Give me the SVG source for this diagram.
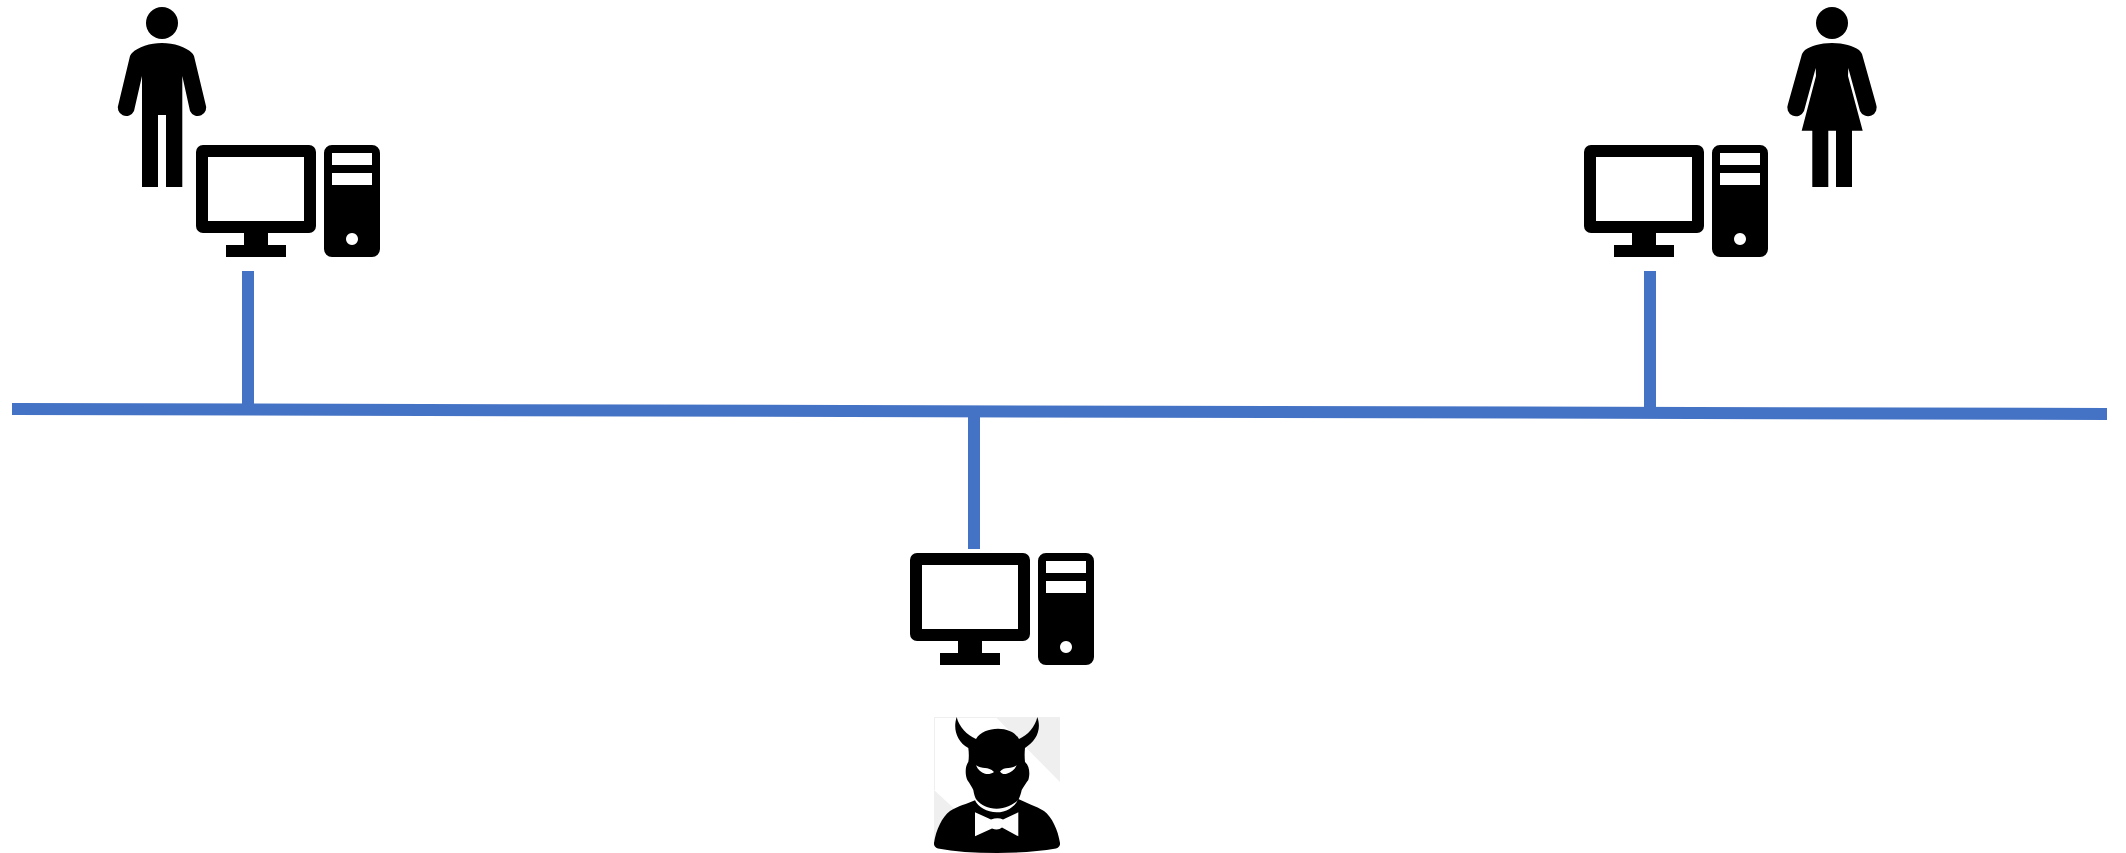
<svg xmlns="http://www.w3.org/2000/svg" width="2126" height="853" viewBox="0 0 2126 853">
<defs>
<style>.w{fill:#fff}.b{fill:#4472c4}.g{fill:#efefef}</style>
<g id="pc">
<path fill-rule="evenodd" d="M203 145H309a7 7 0 0 1 7 7V226a7 7 0 0 1-7 7H268V245H286V257H226V245H244V233H203a7 7 0 0 1-7-7V152a7 7 0 0 1 7-7ZM208 157V221H304V157Z"/>
<path fill-rule="evenodd" d="M332 145H372a8 8 0 0 1 8 8V249a8 8 0 0 1-8 8H332a8 8 0 0 1-8-8V153a8 8 0 0 1 8-8ZM332 153V165H372V153ZM332 173V185H372V173ZM352 233a6 6 0 1 0 .01 0Z"/>
</g>
</defs>
<rect width="2126" height="853" fill="#fff"/>
<g id="connectors" class="b">
<polygon points="12,403 2107,408 2107,420 12,415"/>
<rect x="242" y="271" width="12" height="135"/>
<rect x="1644" y="271" width="12" height="137"/>
<rect x="968" y="410" width="12" height="139"/>
</g>
<g id="man">
<circle cx="162" cy="23" r="16"/>
<path d="M162 43C174 43 186 47 192 53Q193 54 194 56L205.5 104A8 8 0 0 1 190 111L182.3 76V187H166V115H158V187H142V76L134 111A8 8 0 0 1 118.5 104L130 56Q131 54 132 53C138 47 150 43 162 43Z"/>
</g>
<g id="woman">
<circle cx="1832" cy="23" r="16"/>
<path d="M1832 43C1844 43 1853 46 1859 50Q1861 52 1862 54L1876 104A8 8 0 0 1 1860 111L1848.3 68L1848 76L1862.7 130.7H1852V187H1836V130.7H1828.3V187H1812.3V130.7H1801.7L1816 76L1815.7 68L1804 111A8 8 0 0 1 1788 104L1802 54Q1803 52 1805 50C1811 46 1820 43 1832 43Z"/>
</g>
<g id="computer-1"><use href="#pc"/></g>
<g id="computer-2"><use href="#pc" x="1388"/></g>
<g id="computer-3"><use href="#pc" x="714" y="408"/></g>
<g id="attacker">
<polygon class="g" points="934,717 1060,717 1060,782 996.7,718 934,718"/>
<polygon class="g" points="934,718 935,718 935,790 934,790"/>
<polygon class="g" points="934,790 960,814 934,843"/>
<path d="M956.7 717C953 728 956 741 968.3 748C969 753 969 758 968.3 762C965 766 965 775 967.3 780C970 784 972 787 973.3 790C974 794 975 798 976.7 800C981 805 988 808.7 996.7 808.7C1005 808.7 1013 805 1018.3 800C1020 797 1021 793 1021.7 790C1024 786 1026 783 1028.3 780C1030 775 1030 766 1025 762C1024.5 757 1024.5 753 1025 748C1036 741 1042 730 1037.3 717C1035 727 1028 735 1019 739C1015 732 1007 728.7 998 728.7C989 728.7 980 732 976 739C967 735 959 727 956.7 717Z"/>
<path d="M975 800.3C978 807 987 812.3 996.7 812.3C1006 812.3 1015 807 1018.3 799C1026 803 1036 806 1044 811C1052 817 1058 830 1060 843Q1060.5 847 1056 848.500Q1030 853 997 853Q962 853 938 848.500Q933.500 847 934 843C936 830 942 817 950 811C958 806 967 804 975 800.3Z"/>
<path class="w" d="M976 765.3C979 767 982 768 985 768C988 768 991 769 994 772C991 774 988 774.5 985 773.7C981 772.5 978 770 976 765.3ZM1016.7 765.3C1014 767 1011 768 1008.3 768C1005 768 1002 769 1000 771.5C1002 774 1004 774.5 1006.7 773.7C1011 772.5 1014.5 770 1016.7 765.3Z"/>
<path class="w" d="M975 812.3L991 819.5Q998 817 1003 819.5L1018.3 812.3V836.3L1002 827.5Q998 831 992 828.5L975 836.3Z"/>
</g>
</svg>
